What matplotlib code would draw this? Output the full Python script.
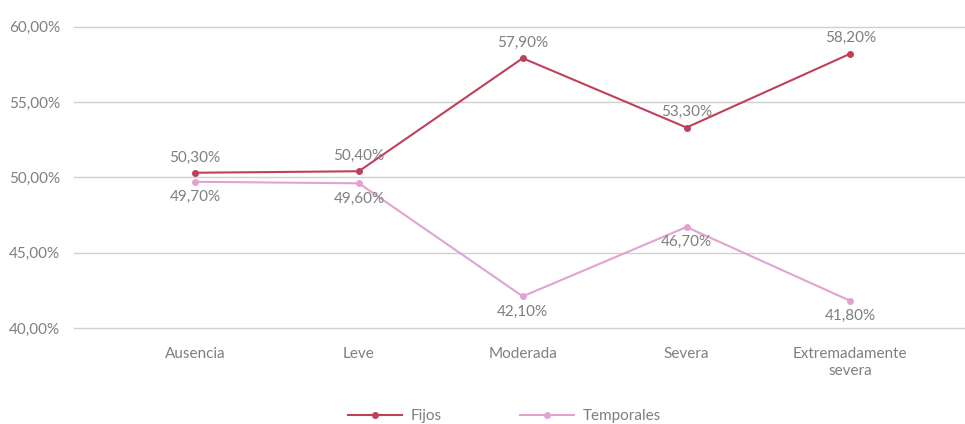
import matplotlib.pyplot as plt
from matplotlib.ticker import FuncFormatter

plt.rcParams['font.family'] = ['Lato', 'DejaVu Sans']

categories = ["Ausencia", "Leve", "Moderada", "Severa", "Extremadamente\nsevera"]
fijos = [50.3, 50.4, 57.9, 53.3, 58.2]
temporales = [49.7, 49.6, 42.1, 46.7, 41.8]

c_fijos = "#c0405a"
c_temp = "#e2a3d3"
grey = "#7f7f7f"

def pct(v):
    return f"{v:.2f}%".replace(".", ",")

fig = plt.figure(figsize=(9.65, 4.24), dpi=100)
ax = fig.add_axes([0.0767, 0.2264, 0.9233, 0.711])

x = list(range(len(categories)))
l1, = ax.plot(x, fijos, color=c_fijos, lw=1.5, marker="o", ms=4, label="Fijos")
l2, = ax.plot(x, temporales, color=c_temp, lw=1.5, marker="o", ms=4, label="Temporales")

# value labels: Fijos above the point, Temporales below
for i in x:
    ax.annotate(pct(fijos[i]), (i, fijos[i]), xytext=(0, 6), textcoords="offset points",
                ha="center", va="bottom", color=grey, fontsize=11)
    ax.annotate(pct(temporales[i]), (i, temporales[i]), xytext=(0, -6), textcoords="offset points",
                ha="center", va="top", color=grey, fontsize=11)

ax.set_xlim(-0.739, 4.70)
ax.set_ylim(40, 60)
ax.set_yticks([40, 45, 50, 55, 60])
ax.yaxis.set_major_formatter(FuncFormatter(lambda v, p: pct(v)))
ax.set_xticks(x)
ax.set_xticklabels(categories)
ax.grid(axis="y", color="#d0d0d0", lw=1)
for gl in ax.get_ygridlines():
    gl.set_clip_on(False)
ax.set_axisbelow(True)
for s in ax.spines.values():
    s.set_visible(False)
ax.tick_params(length=0, colors=grey, labelsize=11)
ax.tick_params(axis="x", pad=14)
ax.tick_params(axis="y", pad=10)

fig.legend(handles=[l1, l2], loc="lower center", bbox_to_anchor=(0.523, -0.03), ncol=2,
           frameon=False, fontsize=11, labelcolor=grey, handlelength=3.5,
           handletextpad=0.6, columnspacing=5.1)

fig.savefig("out.png", dpi=100)
